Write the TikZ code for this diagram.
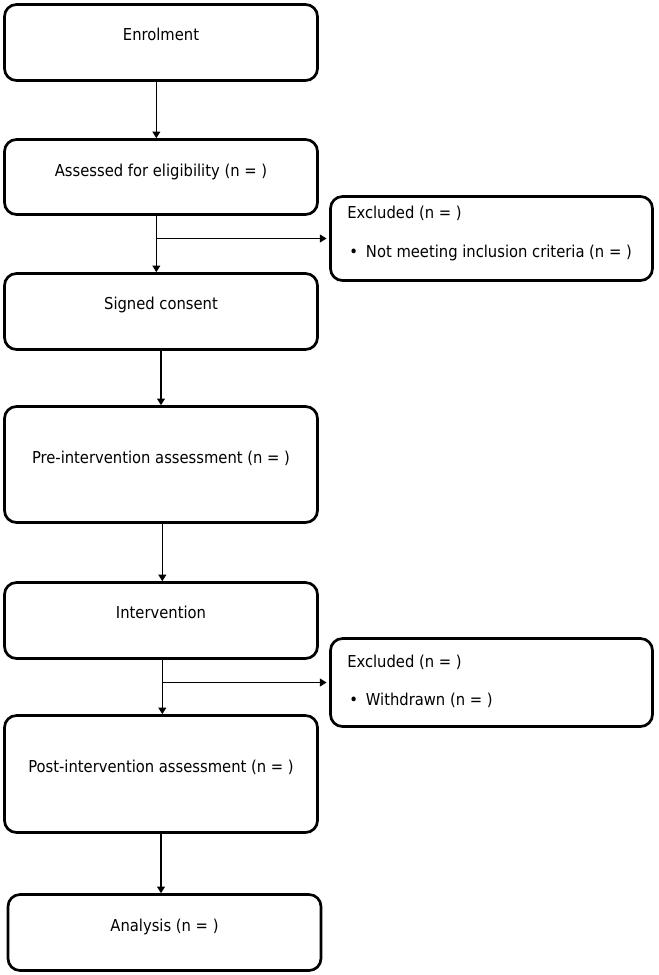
\documentclass[tikz,border=0pt]{standalone}
\usepackage{fontspec}
\setmainfont{DejaVu Sans Condensed}
\usetikzlibrary{arrows.meta,positioning,calc}
\tikzset{
  stage/.style  ={draw=black, line width=2pt, rounded corners=9pt,
                  minimum width=234.75pt, minimum height=57pt, inner sep=0pt},
  exclbox/.style={stage, minimum width=241.5pt},
  txt/.style    ={font=\fontsize{12.3}{14}\selectfont, inner sep=0pt, anchor=base},
  ltxt/.style   ={txt, anchor=base west},
  arr/.style    ={-{Triangle[length=5pt,width=6pt]}, line width=0.8pt},
}

\begin{document}
\begin{tikzpicture}[x=0.75pt,y=-0.75pt]
  \useasboundingbox (0,0) rectangle (658,975);
  % main column
  \node[stage] (enrol) at (161,42.5) {};
  \node[stage, minimum height=56.25pt] (assess) at (161,177) {};
  \node[stage] (consent) at (161,311.5) {};
  \node[stage, minimum height=87pt] (pre) at (161,464.5) {};
  \node[stage] (interv) at (161,620.5) {};
  \node[stage, minimum height=87.75pt] (post) at (161,774) {};
  \node[stage] (anal) at (164.5,932.5) {};
  % side boxes
  \node[exclbox, minimum height=63pt] (excl1) at (491.5,238.5) {};
  \node[exclbox, minimum height=66pt] (excl2) at (491.5,682.5) {};

  \node[txt] (enrol-t) at (161,40) {Enrolment};
  \node[txt] (assess-t) at (161,176) {Assessed for eligibility (n = )};
  \node[txt] (consent-t) at (161,309) {Signed consent};
  \node[txt] (pre-t) at (161,463) {Pre-intervention assessment (n = )};
  \node[txt] (interv-t) at (161,618) {Intervention};
  \node[txt] (post-t) at (161,772) {Post-intervention assessment (n = )};
  \node[txt] (anal-t) at (164.5,931) {Analysis (n = )};

  \node[ltxt] (excl1-h) at (347,218) {Excluded (n = )};
  \node[ltxt] (excl1-i) at (349,257) {•\hspace{6pt}Not meeting inclusion criteria (n = )};
  \node[ltxt] (excl2-h) at (347,667) {Excluded (n = )};
  \node[ltxt] (excl2-i) at (349,705) {•\hspace{6pt}Withdrawn (n = )};

  % connectors
  \draw[arr] ([xshift=-3.5pt]enrol.south) -- ([xshift=-3.5pt]assess.north);
  \draw[arr] ([xshift=-3.5pt]assess.south) -- ([xshift=-3.5pt]consent.north);
  \coordinate (br1) at ([xshift=-3.5pt]assess.south |- excl1.west);
  \draw[arr, shorten >=2pt] (br1) -- (excl1.west);
  \draw[arr] (consent.south) -- (pre.north);
  \draw[arr] ([xshift=1pt]pre.south) -- ([xshift=1pt]interv.north);
  \draw[arr] ([xshift=1pt]interv.south) -- ([xshift=1pt]post.north);
  \coordinate (br2) at ([xshift=1pt]interv.south |- excl2.west);
  \draw[arr, shorten >=2pt] (br2) -- (excl2.west);
  \draw[arr] (post.south) -- (post.south |- anal.north);
\end{tikzpicture}
\end{document}
